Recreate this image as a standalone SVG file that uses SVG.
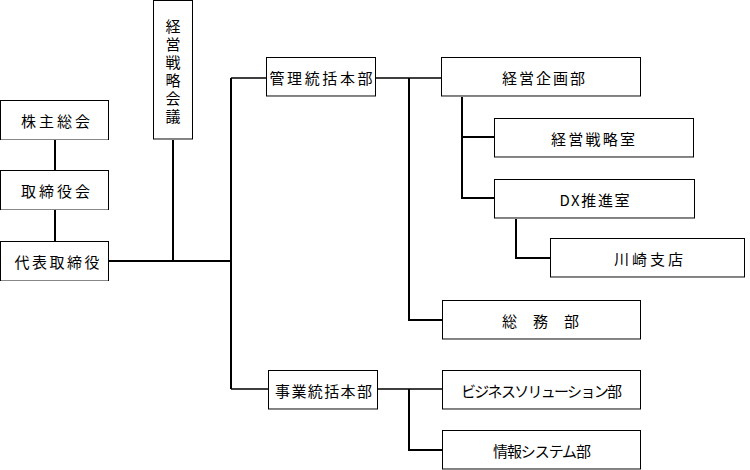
<svg xmlns="http://www.w3.org/2000/svg" width="750" height="470" viewBox="0 0 750 470">
<style>
.box{fill:#fff;stroke:#000;stroke-width:1}
.sh{stroke:#888;stroke-width:1}
.t{font-family:"Noto Sans CJK JP","Noto Sans",sans-serif;font-size:15px;fill:#000;dominant-baseline:central}
.v{font-family:"Noto Sans CJK JP","Noto Sans",sans-serif;font-size:15px;fill:#000;writing-mode:vertical-rl;letter-spacing:3px}
.c{fill:none;stroke:#000;stroke-width:2;stroke-linejoin:miter}
.ct{fill:none;stroke:#000;stroke-width:1.5}
</style>
<rect width="750" height="470" fill="#fff"/>
<g id="connectors">
<path class="c" d="M55,139V170M55,209V241"/>
<path class="c" d="M109,261H231M173,139V261"/>
<path class="c" d="M231,78V389"/>
<path class="ct" d="M231,78H266M231,389H268"/>
<path class="ct" d="M376,78H442M377,389H442"/>
<path class="c" d="M409,78V320H442"/>
<path class="c" d="M462,96V198H494M462,137H494"/>
<path class="c" d="M516,218V258H550"/>
<path class="c" d="M409,389V450H442"/>
</g>
<g id="n-kabunushi"><rect class="box" x="0.5" y="100.5" width="108" height="39"/><line class="sh" x1="1" y1="139.5" x2="108" y2="139.5"/><text class="t" x="21" y="120" textLength="69" lengthAdjust="spacing">株主総会</text></g>
<g id="n-torishimariyakukai"><rect class="box" x="0.5" y="170.5" width="108" height="39"/><line class="sh" x1="1" y1="209.5" x2="108" y2="209.5"/><text class="t" x="21" y="190" textLength="69" lengthAdjust="spacing">取締役会</text></g>
<g id="n-daihyo"><rect class="box" x="0.5" y="241.5" width="108" height="39"/><line class="sh" x1="1" y1="280.5" x2="108" y2="280.5"/><text class="t" x="14.5" y="261" textLength="85" lengthAdjust="spacing">代表取締役</text></g>
<g id="n-senryakukaigi"><rect class="box" x="153.5" y="0.5" width="39" height="138.5"/><line class="sh" x1="154" y1="139.5" x2="192" y2="139.5"/>
<text class="v" x="173" y="19">経営戦略会議</text></g>
<g id="n-kanri"><rect class="box" x="266.5" y="57.5" width="109" height="38.5"/><line class="sh" x1="267" y1="96.5" x2="375" y2="96.5"/><text class="t" x="269.5" y="77" textLength="103" lengthAdjust="spacing">管理統括本部</text></g>
<g id="n-jigyo"><rect class="box" x="268.5" y="370.5" width="109" height="38.5"/><line class="sh" x1="269" y1="409.5" x2="377" y2="409.5"/><text class="t" x="275" y="390" textLength="97" lengthAdjust="spacing">事業統括本部</text></g>
<g id="n-keieikikaku"><rect class="box" x="441.5" y="57.5" width="199" height="38.5"/><line class="sh" x1="442" y1="96.5" x2="640" y2="96.5"/><text class="t" x="502" y="77" textLength="83" lengthAdjust="spacing">経営企画部</text></g>
<g id="n-senryakushitsu"><rect class="box" x="494.5" y="118.5" width="199" height="38.5"/><line class="sh" x1="495" y1="157.5" x2="693" y2="157.5"/><text class="t" x="551" y="138" textLength="84" lengthAdjust="spacing">経営戦略室</text></g>
<g id="n-dx"><rect class="box" x="494.5" y="179.5" width="200" height="38.5"/><line class="sh" x1="495" y1="218.5" x2="694" y2="218.5"/><text class="t" x="559.5" y="199" textLength="70" lengthAdjust="spacing">DX推進室</text></g>
<g id="n-kawasaki"><rect class="box" x="550.5" y="238.5" width="194" height="38.5"/><line class="sh" x1="551" y1="277.5" x2="744" y2="277.5"/><text class="t" x="614" y="258" textLength="69" lengthAdjust="spacing">川崎支店</text></g>
<g id="n-somu"><rect class="box" x="442.5" y="300.5" width="198" height="38.5"/><line class="sh" x1="443" y1="339.5" x2="640" y2="339.5"/><text class="t" x="502" y="320" textLength="77" lengthAdjust="spacing">総　務　部</text></g>
<g id="n-business"><rect class="box" x="442.5" y="370.5" width="198" height="38.5"/><line class="sh" x1="443" y1="409.5" x2="640" y2="409.5"/><text class="t" x="461" y="390" textLength="161" lengthAdjust="spacing">ビジネスソリューション部</text></g>
<g id="n-joho"><rect class="box" x="442.5" y="430.5" width="198" height="38.5"/><line class="sh" x1="443" y1="469.5" x2="640" y2="469.5"/><text class="t" x="493" y="450" textLength="98" lengthAdjust="spacing">情報システム部</text></g>
</svg>
